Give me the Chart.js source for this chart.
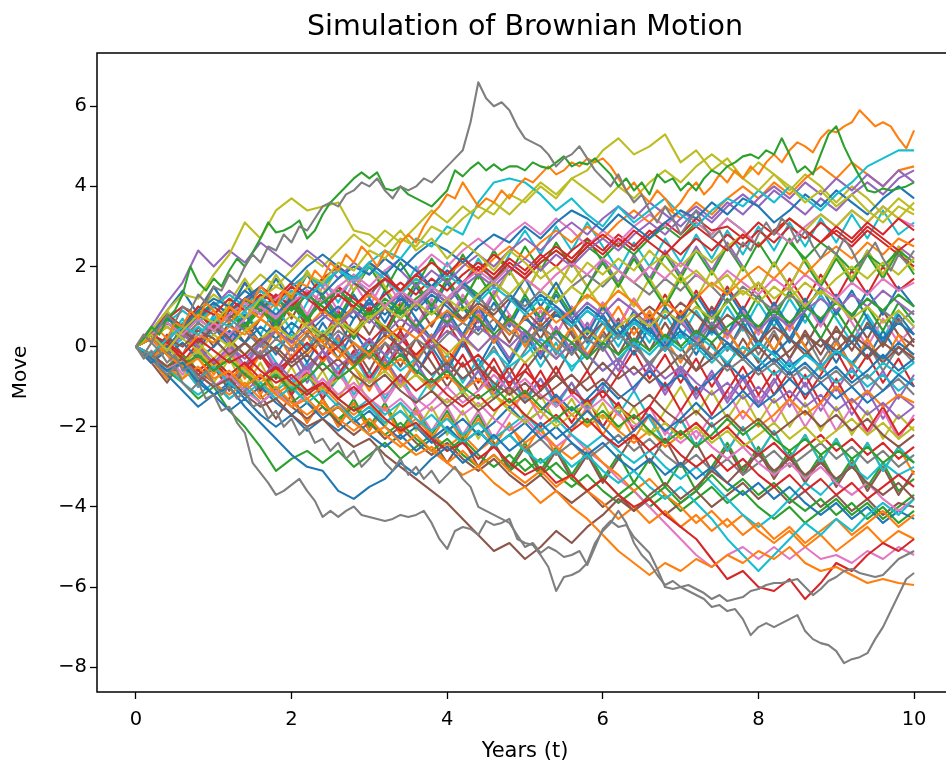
<!DOCTYPE html>
<html>
<head>
<meta charset="utf-8">
<script src="https://cdn.jsdelivr.net/npm/chart.js@4.4.1/dist/chart.umd.min.js"></script>
<style>
html,body{margin:0;padding:0;background:#fff;overflow:hidden;}
#wrap{width:946px;height:765px;overflow:hidden;position:relative;}
canvas{display:block;}
</style>
</head>
<body>
<div id="wrap"><canvas id="c" width="1050" height="765"></canvas></div>
<script>
// ---- time axis (categories) ----
const timesFine = [0,
0.1,0.2,0.3,0.4,0.5,0.6,0.7,0.8,0.9,1.0,
1.1,1.2,1.3,1.4,1.5,1.6,1.7,1.8,1.9,2.0,
2.1,2.2,2.3,2.4,2.5,2.6,2.7,2.8,2.9,3.0,
3.1,3.2,3.3,3.4,3.5,3.6,3.7,3.8,3.9,4.0,
4.1,4.2,4.3,4.4,4.5,4.6,4.7,4.8,4.9,5.0,
5.1,5.2,5.3,5.4,5.5,5.6,5.7,5.8,5.9,6.0,
6.1,6.2,6.3,6.4,6.5,6.6,6.7,6.8,6.9,7.0,
7.1,7.2,7.3,7.4,7.5,7.6,7.7,7.8,7.9,8.0,
8.1,8.2,8.3,8.4,8.5,8.6,8.7,8.8,8.9,9.0,
9.1,9.2,9.3,9.4,9.5,9.6,9.7,9.8,9.9,10.0];
const timesCoarse = [0,
0.2,0.4,0.6,0.8,1.0, 1.2,1.4,1.6,1.8,2.0, 2.2,2.4,2.6,2.8,3.0, 3.2,3.4,3.6,3.8,4.0, 4.2,4.4,4.6,4.8,5.0,
5.2,5.4,5.6,5.8,6.0, 6.2,6.4,6.6,6.8,7.0, 7.2,7.4,7.6,7.8,8.0, 8.2,8.4,8.6,8.8,9.0, 9.2,9.4,9.6,9.8,10.0];

// ---- tick labels ----
const xTicks = [0,2,4,6,8,10];
const yTicks = [-8,-6,-4,-2,0,2,4,6];

// ---- colours (matplotlib tab10) ----
const C = {blue:'#1f77b4',orange:'#ff7f0e',green:'#2ca02c',red:'#d62728',purple:'#9467bd',
           brown:'#8c564b',pink:'#e377c2',gray:'#7f7f7f',olive:'#bcbd22',cyan:'#17becf'};

// ---- paths read at 0.1-year resolution (the outliers) ----
const grayPeak = [0,
0.3,0.1,0.5,0.8,0.6,1.0,0.9,1.3,1.1,1.5,
1.4,1.8,1.6,2.0,2.3,2.1,2.5,2.4,2.8,2.6,
3.0,2.9,3.2,3.5,3.6,3.5,3.8,3.9,4.1,4.0,
4.2,3.9,3.7,4.0,3.9,4.0,4.2,4.1,4.3,4.5,
4.7,4.9,5.6,6.6,6.2,6.0,6.1,5.9,5.5,5.2,
5.1,5.0,4.8,4.5,4.7,4.8,5.0,4.7,4.4,4.2,
4.0,4.3,3.9,3.6,3.8,3.4,3.1,3.5,3.2,2.8,
3.1,3.4,3.0,2.7,2.9,2.5,2.2,2.6,2.4,2.8,
3.1,2.8,3.2,3.0,2.6,2.9,2.5,2.2,2.5,2.3,
2.7,2.4,2.0,2.3,2.6,2.2,1.9,2.3,2.1,2.4];
const grayDeep = [0,
-0.2,0.1,-0.1,-0.4,-0.2,-0.6,-0.5,-0.8,-0.6,-0.9,
-1.2,-1.0,-1.3,-1.1,-1.5,-1.4,-1.8,-1.6,-2.0,-1.8,
-2.2,-2.0,-2.4,-2.3,-2.6,-2.4,-2.8,-2.6,-3.0,-2.8,
-2.5,-2.9,-3.1,-2.8,-3.2,-3.0,-3.3,-3.1,-3.4,-3.2,
-3.0,-3.3,-3.5,-4.0,-4.1,-4.2,-4.3,-4.4,-4.7,-5.0,
-4.9,-5.15,-5.0,-5.1,-5.25,-5.2,-5.1,-5.45,-5.0,-4.55,
-4.35,-4.5,-4.45,-4.75,-4.95,-5.15,-5.55,-6.0,-6.05,-6.0,
-6.1,-6.2,-6.3,-6.5,-6.45,-6.6,-6.55,-6.8,-7.2,-7.0,
-6.9,-7.0,-6.9,-6.8,-6.7,-7.1,-7.3,-7.4,-7.45,-7.6,
-7.9,-7.8,-7.75,-7.65,-7.3,-7.0,-6.6,-6.2,-5.8,-5.65];
const grayLow = [0,
-0.3,-0.1,-0.5,-0.7,-0.5,-0.9,-1.1,-0.9,-1.3,-1.2,
-1.6,-1.5,-1.9,-2.15,-2.9,-3.15,-3.4,-3.7,-3.6,-3.45,
-3.3,-3.6,-3.85,-4.25,-4.1,-4.25,-4.1,-3.99,-4.2,-4.25,
-4.3,-4.35,-4.3,-4.2,-4.25,-4.2,-4.1,-4.4,-4.8,-5.05,
-4.6,-4.5,-4.55,-4.7,-4.35,-4.45,-4.4,-4.3,-4.8,-4.9,
-4.95,-5.2,-5.5,-6.1,-5.75,-5.7,-5.6,-5.4,-4.9,-4.6,
-4.4,-4.1,-4.4,-4.9,-5.2,-5.4,-5.7,-5.95,-5.85,-6.0,
-5.95,-6.05,-6.15,-6.3,-6.2,-6.35,-6.3,-6.25,-6.1,-6.05,
-5.95,-5.9,-5.9,-5.85,-5.8,-6.0,-6.2,-6.05,-5.85,-5.75,
-5.6,-5.55,-5.65,-5.7,-5.75,-5.7,-5.5,-5.3,-5.2,-5.1];
const greenTop = [0,
0.2,0.5,0.3,0.7,0.9,1.3,2.0,1.6,1.4,1.7,
1.5,1.9,2.2,2.0,2.35,2.7,3.1,2.85,2.9,3.0,
3.15,2.7,2.9,3.3,3.6,3.8,4.0,4.2,4.35,4.2,
4.35,3.95,3.9,4.0,3.8,3.7,3.6,3.5,3.7,3.9,
4.4,4.25,4.45,4.6,4.4,4.55,4.4,4.5,4.5,4.4,
4.6,4.5,4.45,4.6,4.75,4.5,4.6,4.55,4.7,4.5,
4.3,4.0,4.2,3.9,4.1,3.8,4.3,4.1,4.2,3.9,
4.1,3.9,4.2,4.4,4.3,4.5,4.6,4.75,4.8,4.7,
4.9,4.8,5.2,4.8,4.35,4.5,4.3,4.8,5.3,5.5,
5.0,4.6,4.25,3.9,3.85,3.95,3.9,3.95,4.0,4.1];
const orangeTop = [0,
0.3,0.1,0.4,0.2,0.6,0.5,0.9,0.7,1.1,0.9,
0.6,1.0,0.8,1.2,1.1,1.5,1.3,1.0,1.4,1.2,
1.6,1.5,1.9,1.7,2.1,1.9,2.3,2.1,2.5,2.3,
2.0,2.4,2.2,2.6,2.8,2.6,3.0,3.3,3.5,3.8,
3.7,4.1,3.8,3.5,3.7,3.6,3.9,3.7,4.0,4.2,
4.1,4.3,4.5,4.3,4.4,4.6,4.5,4.7,4.6,4.7,
4.5,4.2,3.9,4.1,3.8,3.6,3.9,3.7,3.4,3.6,
3.9,4.1,3.8,4.0,4.3,4.1,4.4,4.2,4.5,4.3,
4.6,4.8,4.6,4.9,5.1,5.0,4.85,5.2,5.4,5.35,
5.5,5.6,5.9,5.7,5.5,5.6,5.5,5.2,4.95,5.4];
const finePaths = [grayPeak, grayDeep, grayLow, greenTop, orangeTop];
const fineColors = [C.gray, C.gray, C.gray, C.green, C.orange];

// ---- paths read at 0.2-year resolution (the main band) ----
const p01=[0, 0.4,0.9,1.3,1.2,1.8, 2.3,3.1,2.7,3.4,3.7, 3.4,3.5,3.6,2.9,2.8, 2.5,2.9,2.4,2.7,2.2, 2.6,2.3,1.9,2.4,2.1, 1.7,2.0,1.6,2.1,1.8, 2.2,1.9,2.4,2.0,1.6, 1.9,1.5,1.8,1.3,1.6, 1.2,1.5,1.0,1.4,1.1, 0.7,1.0,0.6,0.9,0.5];
const p02=[0, 0.3,-0.1,0.4,0.8,0.6, 1.0,0.7,1.2,1.5,1.3, 1.8,1.6,2.1,1.9,2.4, 2.2,2.7,2.5,3.0,2.8, 3.2,3.5,3.3,3.8,3.6, 4.0,3.7,4.2,4.4,4.9, 5.2,4.8,5.0,5.3,4.6, 4.9,4.4,4.7,4.2,3.9, 4.3,4.0,3.6,3.9,3.5, 3.8,3.4,3.1,3.5,3.3];
const p03=[0, -0.2,0.2,0.5,0.3,0.7, 0.5,0.9,1.2,1.0,1.4, 1.2,1.6,1.9,1.7,2.1, 2.4,2.2,2.7,2.5,3.0, 2.8,3.6,4.1,4.2,4.1, 3.8,3.4,3.7,3.3,3.0, 3.5,3.1,3.4,3.7,3.3, 3.0,3.4,3.7,3.5,3.9, 3.6,4.0,3.7,3.4,3.8, 4.1,4.5,4.7,4.9,4.9];
const p04=[0, -0.3,-0.6,-0.4,-0.9,-1.2, -1.0,-1.5,-1.9,-2.3,-2.7, -3.0,-3.1,-3.6,-3.8,-3.5, -3.3,-2.9,-3.2,-2.8,-2.5, -2.9,-2.6,-2.2,-2.6,-2.3, -1.9,-2.3,-2.0,-1.6,-2.0, -2.4,-2.1,-1.7,-2.1,-1.8, -1.4,-1.8,-1.5,-1.1,-1.5, -1.2,-0.8,-1.2,-0.9,-1.3, -1.0,-1.4,-1.1,-0.7,-1.0];
const p05=[0, 0.2,-0.2,-0.5,-0.3,-0.8, -0.6,-1.0,-0.7,-1.2,-1.5, -1.3,-1.7,-1.5,-1.9,-2.2, -2.0,-2.4,-2.7,-2.5,-2.9, -3.2,-3.0,-3.4,-3.7,-3.5, -3.9,-3.6,-4.0,-4.3,-4.7, -5.1,-5.4,-5.7,-5.4,-5.6, -5.3,-5.5,-5.2,-5.4,-5.1, -5.3,-5.0,-5.4,-5.6,-5.5, -5.7,-5.9,-5.8,-5.9,-5.95];
const p06=[0, 0.3,0.1,-0.2,0.2,-0.1, -0.4,-0.2,-0.6,-0.9,-0.7, -1.1,-0.9,-1.3,-1.6,-1.4, -1.8,-2.1,-1.9,-2.3,-2.6, -2.4,-2.8,-2.5,-2.9,-3.2, -3.0,-3.4,-3.2,-3.6,-3.3, -3.7,-4.0,-3.8,-4.2,-4.5, -4.8,-5.3,-5.8,-5.6,-6.0, -6.1,-5.8,-6.3,-5.9,-5.4, -5.6,-5.2,-4.9,-5.1,-4.8];
const p07=[0, -0.2,-0.5,-0.3,-0.7,-1.0, -0.8,-1.2,-1.5,-1.3,-1.7, -2.0,-1.8,-2.2,-2.5,-2.3, -2.7,-3.0,-3.3,-3.6,-3.9, -4.3,-4.7,-5.1,-4.9,-5.3, -5.0,-4.6,-4.9,-4.5,-4.2, -3.8,-4.1,-3.7,-3.4,-3.8, -3.5,-3.1,-3.4,-3.0,-2.7, -3.1,-2.8,-3.2,-2.9,-3.3, -3.0,-3.4,-3.7,-3.4,-3.8];
const p08=[0, 0.4,0.7,0.5,0.9,1.2, 1.0,1.4,1.1,0.8,1.2, 1.5,1.3,1.7,2.0,1.8, 2.2,1.9,2.3,2.6,2.4, 2.1,2.5,2.8,2.6,3.0, 2.7,3.1,3.4,3.2,2.9, 3.3,3.0,2.7,3.1,3.4, 3.2,3.6,3.3,3.7,3.5, 3.1,3.4,3.8,3.5,3.9, 3.6,3.3,3.7,4.0,3.7];
const p09=[0, -0.3,0.1,-0.2,0.3,0.1, 0.5,0.3,0.7,0.4,0.0, 0.4,0.1,-0.3,0.1,-0.2, 0.2,0.5,0.2,0.6,0.9, 0.6,1.0,0.7,0.3,0.7, 1.0,0.6,0.9,1.3,1.0, 1.4,1.1,0.7,1.1,0.8, 1.2,1.6,1.3,1.7,2.0, 1.7,2.1,1.8,2.2,2.5, 2.2,2.6,2.3,2.7,2.5];
const p10=[0, 0.2,-0.2,-0.5,-0.2,-0.6, -0.3,-0.7,-1.0,-0.7,-1.1, -0.8,-0.4,-0.8,-0.5,-0.1, -0.5,-0.2,-0.6,-0.9,-0.6, -1.0,-1.3,-1.0,-1.4,-1.1, -1.5,-1.8,-1.5,-1.9,-1.6, -2.0,-1.7,-2.1,-2.4,-2.1, -2.5,-2.2,-1.8,-2.2,-1.9, -2.3,-2.6,-2.3,-2.7,-2.4, -2.8,-2.5,-2.9,-2.6,-2.9];
const p11=[0, 0.4,0.8,0.5,1.0,0.8, 1.2,0.9,1.3,1.1,1.5, 1.2,0.9,1.3,1.0,1.4, 1.7,1.4,1.8,2.1,1.8, 2.2,1.9,2.3,2.0,1.7, 2.1,2.4,2.1,2.5,2.8, 2.5,2.9,2.6,2.3,2.7, 3.0,2.7,2.4,2.8,2.5, 2.9,3.2,2.9,2.6,3.0, 2.7,3.1,2.8,3.2,2.9];
const p12=[0, 0.5,1.1,1.6,2.4,2.0, 2.4,2.1,2.6,2.3,2.0, 2.4,2.1,1.7,2.1,1.8, 2.2,1.9,1.5,1.9,1.6, 2.0,2.3,2.0,2.4,2.7, 2.4,2.8,3.1,2.8,3.2, 3.5,3.2,3.6,3.3,3.0, 3.4,3.1,3.5,3.8,3.5, 3.9,3.6,3.3,3.7,3.4, 3.8,4.1,3.8,4.2,4.4];
const p13=[0, -0.2,0.2,0.0,0.4,0.2, -0.2,0.1,-0.3,0.0,-0.4, -0.1,0.3,0.0,-0.4,-0.1, 0.3,0.0,-0.3,-0.7,-0.4, -0.8,-0.5,-0.9,-1.2,-0.9, -1.3,-1.0,-0.7,-1.1,-0.8, -1.2,-1.5,-1.2,-1.6,-1.9, -1.6,-2.0,-1.7,-2.1,-1.8, -2.2,-1.9,-1.6,-2.0,-1.7, -2.1,-1.8,-2.2,-2.5,-2.2];
const p14=[0, 0.3,0.6,0.3,0.7,0.4, 0.8,1.1,0.8,1.2,1.5, 1.2,1.6,1.3,1.7,1.4, 1.0,1.4,1.1,1.5,1.2, 1.6,1.9,1.6,2.0,1.7, 1.4,1.8,2.1,1.8,2.2, 1.9,1.6,2.0,1.7,2.1, 1.8,1.5,1.9,1.6,1.3, 1.7,1.4,1.8,1.5,1.2, 1.6,1.3,1.7,1.4,1.6];
const p15=[0, -0.3,-0.1,-0.5,-0.2,-0.6, -0.3,0.1,-0.2,0.2,-0.1, 0.3,0.0,0.4,0.1,-0.3, 0.1,-0.2,0.2,-0.1,0.3, 0.6,0.3,0.7,0.4,0.1, 0.5,0.2,-0.2,0.2,-0.1, 0.3,0.0,-0.4,0.0,-0.3, 0.1,-0.2,-0.6,-0.3,-0.7, -0.4,-0.8,-0.5,-0.9,-0.6, -1.0,-0.7,-1.1,-0.8,-1.2];
const p16=[0, 0.2,0.5,0.2,-0.1,0.3, 0.0,0.4,0.7,0.4,0.8, 0.5,0.2,0.6,0.3,0.7, 1.0,0.7,1.1,0.8,1.2, 0.9,1.3,1.6,1.3,1.7, 1.4,1.1,1.5,1.2,1.6, 1.9,1.6,2.0,2.3,2.0, 2.4,2.1,2.5,2.8,2.5, 2.9,3.2,2.9,3.3,3.0, 3.4,3.1,3.5,3.2,3.6];
const p17=[0, -0.3,-0.6,-0.4,-0.8,-0.5, -0.9,-1.2,-0.9,-1.3,-1.0, -1.4,-1.1,-1.5,-1.8,-1.5, -1.9,-1.6,-2.0,-1.7,-2.1, -2.4,-2.1,-2.5,-2.2,-2.6, -2.9,-2.6,-3.0,-2.7,-3.1, -3.4,-3.1,-3.5,-3.8,-3.5, -3.9,-4.3,-4.8,-5.2,-5.6, -5.2,-4.8,-4.4,-4.7,-4.3, -4.6,-4.2,-3.9,-4.2,-3.8];
const p18=[0, 0.3,0.0,0.4,0.7,1.1, 0.8,1.2,1.5,1.9,1.6, 2.0,2.3,2.0,1.7,2.1, 1.8,2.2,1.9,1.5,1.9, 1.6,1.2,1.6,1.3,0.9, 1.3,1.0,0.6,1.0,0.7, 0.3,0.7,0.4,0.0,0.4, 0.1,-0.3,0.1,-0.2,-0.6, -0.3,-0.7,-0.4,-0.8,-0.5, -0.9,-0.6,-0.2,-0.6,-0.3];
const p19=[0, -0.2,-0.5,-0.8,-0.5,-0.9, -1.2,-0.9,-1.3,-1.0,-1.4, -1.7,-1.4,-1.8,-2.1,-1.8, -2.2,-2.5,-2.2,-2.6,-2.9, -2.6,-3.0,-2.7,-3.1,-3.4, -3.1,-3.5,-3.2,-3.6,-3.9, -4.3,-4.0,-4.4,-4.1,-4.5, -4.2,-4.6,-4.3,-4.7,-4.4, -4.8,-4.5,-4.9,-4.6,-4.3, -4.7,-4.4,-4.1,-4.5,-4.2];
const p20=[0, 0.3,0.7,0.4,0.8,1.1, 0.8,1.2,0.9,0.6,1.0, 0.7,1.1,1.4,1.1,0.8, 1.2,0.9,0.5,0.9,0.6, 1.0,0.7,0.3,0.7,0.4, 0.0,0.4,0.1,-0.3,0.1, -0.2,0.2,-0.1,0.3,0.0, 0.4,0.1,0.5,0.8,0.5, 0.9,0.6,1.0,0.7,1.1, 0.8,1.2,0.9,1.3,1.0];
const p21=[0, -0.2,0.1,-0.3,-0.6,-0.3, -0.7,-0.4,-0.8,-0.5,-0.9, -1.2,-0.9,-1.3,-1.0,-1.4, -1.1,-0.7,-1.1,-0.8,-1.2, -1.5,-1.2,-1.6,-1.3,-1.7, -2.0,-1.7,-2.1,-1.8,-2.2, -2.5,-2.2,-2.6,-2.3,-2.7, -3.0,-2.7,-3.1,-2.8,-3.2, -3.5,-3.2,-3.6,-3.3,-3.7, -3.4,-3.8,-3.5,-3.2,-3.5];
const p22=[0, 0.2,-0.1,0.3,0.0,-0.4, 0.0,-0.3,0.1,0.4,0.1, 0.5,0.8,0.5,0.9,0.6, 1.0,1.3,1.0,1.4,1.1, 1.5,1.8,1.5,1.9,2.2, 1.9,2.3,2.0,2.4,2.7, 2.4,2.8,3.1,2.8,3.2, 3.5,3.2,3.6,3.3,3.7, 4.0,3.7,4.1,3.8,4.2, 3.9,4.3,4.0,4.4,4.1];
const p23=[0, 0.3,0.0,0.4,0.1,0.5, 0.2,-0.2,0.2,-0.1,-0.5, -0.2,-0.6,-0.3,-0.7,-1.0, -0.7,-1.1,-1.4,-1.1,-1.5, -1.2,-1.6,-1.3,-1.0,-1.4, -1.1,-0.7,-1.1,-0.8,-0.4, -0.8,-0.5,-0.9,-0.6,-0.2, -0.6,-0.3,0.1,-0.3,0.0, -0.4,-0.1,0.3,0.0,0.4, 0.1,-0.3,0.1,-0.2,0.2];
const p24=[0, -0.3,-0.6,-0.3,-0.7,-1.0, -0.7,-1.1,-1.4,-1.1,-1.5, -1.2,-0.8,-1.2,-0.9,-1.3, -1.6,-1.3,-1.7,-1.4,-1.0, -1.4,-1.1,-0.7,-1.1,-0.8, -1.2,-1.5,-1.2,-1.6,-1.3, -1.7,-2.0,-1.7,-2.1,-2.4, -2.1,-2.5,-2.8,-2.5,-2.9, -3.2,-2.9,-3.3,-3.0,-3.4, -3.7,-3.4,-3.8,-4.1,-3.8];
const p25=[0, 0.2,0.5,0.2,0.6,0.3, 0.7,0.4,0.0,0.4,0.1, 0.5,0.2,0.6,0.9,0.6, 1.0,0.7,1.1,1.4,1.1, 1.5,1.2,0.9,1.3,1.0, 1.4,1.1,1.5,1.8,1.5, 1.9,1.6,1.3,1.7,1.4, 1.8,1.5,1.1,1.5,1.2, 0.9,1.3,1.0,1.4,1.1, 0.8,1.2,0.9,0.6,0.9];
const p26=[0, -0.3,0.0,-0.4,-0.1,-0.5, -0.2,-0.6,-0.9,-0.6,-1.0, -0.7,-1.1,-0.8,-0.5,-0.9, -0.6,-1.0,-0.7,-1.1,-1.4, -1.1,-1.5,-1.2,-1.6,-1.9, -1.6,-2.0,-1.7,-1.4,-1.8, -1.5,-1.9,-2.2,-1.9,-2.3, -2.0,-2.4,-2.1,-2.5,-2.2, -1.9,-2.3,-2.0,-2.4,-2.1, -1.8,-2.2,-1.9,-2.3,-2.0];
const p27=[0, 0.3,0.6,0.9,0.6,1.0, 1.3,1.0,1.4,1.1,1.5, 1.8,1.5,1.9,1.6,2.0, 1.7,1.3,1.7,1.4,1.8, 1.5,1.1,1.5,1.2,0.8, 1.2,0.9,0.5,0.9,0.6, 0.2,0.6,0.3,-0.1,0.3, 0.0,-0.4,0.0,-0.3,0.1, -0.2,-0.6,-0.2,-0.5,-0.1, -0.4,-0.8,-0.4,-0.7,-0.4];
const p28=[0, -0.4,-0.1,-0.5,-0.8,-1.2, -0.9,-1.3,-1.0,-1.4,-1.7, -1.4,-1.8,-2.1,-1.8,-2.2, -2.5,-2.2,-2.6,-2.3,-2.0, -2.4,-2.1,-2.5,-2.2,-1.9, -2.3,-2.0,-2.4,-2.7,-2.4, -2.8,-3.1,-2.8,-3.2,-2.9, -3.3,-3.0,-3.4,-3.7,-3.4, -3.8,-3.5,-3.9,-4.2,-3.9, -4.3,-4.0,-4.4,-4.1,-4.3];
const p29=[0, 0.2,0.5,0.2,0.6,0.9, 0.6,1.0,0.7,1.1,0.8, 0.5,0.9,0.6,1.0,1.3, 1.0,1.4,1.7,1.4,1.8, 2.1,1.8,2.2,2.5,2.2, 2.6,2.9,2.6,3.0,2.7, 3.1,3.4,3.1,3.5,3.2, 3.6,3.3,3.7,4.0,3.7, 4.1,3.8,4.2,4.5,4.2, 4.6,4.3,4.0,4.4,4.5];
const p30=[0, -0.2,-0.5,-0.2,-0.6,-0.3, -0.7,-1.0,-0.7,-1.1,-1.4, -1.1,-1.5,-1.8,-1.5,-1.9, -2.2,-1.9,-2.3,-2.6,-2.3, -2.7,-3.0,-2.7,-3.1,-2.8, -3.2,-2.9,-3.3,-3.6,-3.3, -3.7,-3.4,-3.8,-3.5,-3.9, -3.6,-3.2,-3.6,-3.3,-3.7, -3.4,-3.8,-4.1,-3.8,-4.2, -3.9,-4.3,-4.0,-4.4,-4.1];
const p31=[0, 0.3,0.7,1.0,0.7,1.1, 0.8,1.2,1.5,1.2,1.6, 1.3,1.7,2.0,1.7,2.1, 1.8,1.4,1.8,1.5,1.9, 1.6,2.0,1.7,2.1,1.8, 2.2,2.5,2.2,2.6,2.3, 2.7,2.4,2.8,3.1,2.8, 3.2,2.9,3.0,2.7,3.1, 2.8,3.2,2.9,2.6,2.9, 2.6,3.0,2.7,2.4,2.7];
const p32=[0, -0.2,-0.6,-0.3,-0.7,-1.0, -0.7,-1.1,-0.8,-0.4,-0.8, -0.5,-0.1,-0.5,-0.2,0.2, -0.2,0.1,0.5,0.2,0.6, 0.3,-0.1,0.3,0.0,0.4, 0.1,-0.3,0.1,-0.2,-0.6, -0.3,-0.7,-0.4,-0.8,-0.5, -0.9,-1.2,-0.9,-1.3,-1.0, -1.4,-1.1,-1.5,-1.2,-1.6, -1.3,-1.7,-1.4,-1.8,-1.5];
const p33=[0, 0.2,0.6,0.3,0.7,1.0, 0.7,1.1,1.4,1.1,1.5, 1.8,1.5,1.9,1.6,1.3, 1.7,1.4,1.0,1.4,1.1, 0.7,1.1,0.8,1.2,0.9, 0.5,0.9,0.6,0.2,0.6, 0.3,0.7,1.0,0.7,1.1, 0.8,0.4,0.8,0.5,0.1, 0.5,0.2,-0.2,0.2,-0.1, 0.3,0.0,-0.4,0.0,-0.3];
const p34=[0, -0.2,0.2,0.5,0.2,0.6, 0.3,0.7,1.0,0.7,1.1, 1.4,1.1,1.5,1.8,1.5, 1.9,2.2,1.9,2.3,2.0, 2.4,2.7,2.4,2.8,3.1, 2.8,3.2,2.9,2.5,2.9, 2.6,3.0,3.3,3.0,3.4, 3.1,2.8,3.2,2.9,2.5, 2.9,2.6,3.0,3.3,3.0, 3.4,3.1,3.5,3.2,3.0];
const p35=[0, -0.3,-0.7,-0.4,-0.8,-0.5, -0.9,-0.6,-1.0,-1.3,-1.0, -1.4,-1.7,-1.4,-1.8,-1.5, -1.9,-1.6,-2.0,-2.3,-2.0, -2.4,-2.1,-2.5,-2.2,-2.6, -2.3,-2.7,-2.4,-2.8,-2.5, -2.2,-2.6,-2.3,-2.7,-3.0, -2.7,-3.1,-2.8,-3.2,-2.9, -2.6,-3.0,-2.7,-2.4,-2.8, -2.5,-2.9,-2.6,-3.0,-2.7];
const p36=[0, 0.3,0.0,0.4,0.1,-0.3, 0.1,-0.2,0.2,0.5,0.2, 0.6,0.3,0.7,0.4,0.8, 0.5,0.1,0.5,0.2,-0.2, 0.2,-0.1,0.3,0.0,-0.4, 0.0,-0.3,0.1,0.4,0.1, 0.5,0.8,0.5,0.9,0.6, 1.0,0.7,1.1,1.4,1.1, 1.5,1.2,1.6,1.3,1.7, 2.0,1.7,2.1,1.8,2.2];
const p37=[0, -0.2,-0.5,-0.9,-1.2,-0.9, -1.3,-1.0,-1.4,-1.1,-0.8, -1.2,-0.9,-1.3,-1.6,-1.3, -1.7,-1.4,-1.8,-2.1,-1.8, -2.2,-1.9,-2.3,-2.0,-1.7, -2.1,-1.8,-2.2,-2.5,-2.2, -2.6,-2.9,-2.6,-3.0,-3.3, -3.0,-3.4,-3.8,-4.2,-4.5, -4.2,-3.8,-3.4,-3.7,-3.3, -3.0,-3.3,-2.9,-3.2,-3.0];
const p38=[0, 0.2,-0.2,0.1,-0.3,0.0, 0.4,0.1,0.5,0.2,0.6, 0.3,0.7,1.0,0.7,1.1, 0.8,1.2,0.9,1.3,1.0, 0.6,1.0,0.7,0.3,0.7, 0.4,0.8,0.5,0.9,0.6, 0.2,0.6,0.3,-0.1,0.3, 0.0,0.4,0.1,-0.3,0.1, -0.2,0.2,-0.1,-0.5,-0.1, -0.4,0.0,-0.3,0.1,-0.2];
const p39=[0, -0.3,0.0,-0.4,-0.1,-0.5, -0.8,-0.5,-0.9,-1.2,-0.9, -1.3,-1.0,-1.4,-1.7,-1.4, -1.8,-2.1,-1.8,-2.2,-2.5, -2.2,-2.6,-2.3,-2.0,-2.4, -2.1,-2.5,-2.8,-2.5,-2.9, -3.2,-3.6,-3.3,-3.7,-4.0, -4.4,-4.1,-4.5,-4.2,-4.6, -4.9,-4.6,-5.0,-4.7,-5.1, -4.8,-4.5,-4.9,-4.6,-4.8];
const p40=[0, 0.3,0.0,0.4,0.7,0.4, 0.8,0.5,0.9,1.2,0.9, 1.3,1.0,0.6,1.0,0.7, 1.1,0.8,1.2,1.5,1.2, 1.6,1.3,1.7,2.0,1.7, 2.1,2.4,2.1,2.5,2.2, 2.6,2.3,2.7,3.0,2.7, 3.1,2.8,3.2,2.9,2.5, 2.9,2.6,2.2,2.6,2.3, 1.9,2.3,2.0,2.4,2.1];
const p41=[0, -0.3,-0.6,-0.3,-0.7,-0.4, -0.8,-0.5,-0.2,-0.6,-0.3, 0.1,-0.3,0.0,0.4,0.1, 0.5,0.2,-0.2,0.2,-0.1, -0.5,-0.2,-0.6,-0.9,-0.6, -1.0,-0.7,-1.1,-1.4,-1.1, -1.5,-1.8,-1.5,-1.9,-2.2, -1.9,-2.3,-2.0,-2.4,-2.7, -2.4,-2.8,-2.5,-2.2,-2.6, -2.3,-2.7,-2.4,-2.8,-2.5];
const p42=[0, 0.3,0.6,0.3,0.7,1.0, 1.4,1.1,1.5,1.2,0.9, 1.3,1.0,0.6,1.0,0.7, 0.3,0.7,0.4,0.0,0.4, 0.1,0.5,0.2,0.6,0.3, 0.7,1.0,0.7,1.1,0.8, 1.2,0.9,0.5,0.9,0.6, 0.2,0.6,0.3,0.7,0.4, 0.8,0.5,0.9,1.2,0.9, 1.3,1.0,1.4,1.1,0.8];
const p43=[0, -0.2,-0.5,-0.2,-0.6,-0.9, -1.3,-1.0,-1.4,-1.1,-1.5, -1.8,-1.5,-1.9,-2.2,-1.9, -2.3,-2.0,-2.4,-2.7,-2.4, -2.8,-3.1,-2.8,-3.2,-3.5, -3.2,-3.6,-3.9,-3.6,-4.0, -3.7,-4.1,-3.8,-4.2,-3.9, -3.6,-4.0,-3.7,-3.4,-3.8, -3.5,-3.9,-3.6,-4.0,-3.7, -4.1,-3.8,-4.2,-3.9,-4.0];
const p44=[0, 0.2,-0.1,0.3,0.0,-0.4, -0.1,-0.5,-0.2,-0.6,-0.9, -0.6,-1.0,-0.7,-1.1,-0.8, -1.2,-0.9,-1.3,-1.6,-1.3, -1.7,-1.4,-1.8,-2.1,-1.8, -2.2,-2.5,-2.2,-2.6,-2.9, -3.3,-3.6,-4.0,-4.4,-4.8, -5.2,-5.5,-5.2,-5.0,-5.3, -5.0,-5.3,-5.0,-5.3,-5.2, -5.4,-5.1,-5.3,-5.0,-5.2];
const p45=[0, 0.4,0.8,0.5,0.9,1.3, 1.0,1.4,1.8,1.5,1.9, 2.3,2.0,2.4,2.8,2.5, 2.9,2.6,3.0,3.4,3.1, 3.5,3.2,3.6,3.3,3.7, 4.1,3.8,4.2,3.9,3.6, 4.0,3.7,4.1,4.4,4.1, 4.5,4.8,4.5,4.2,4.6, 4.3,3.9,4.3,4.0,3.6, 4.0,3.7,3.3,3.7,3.4];
const p46=[0, 0.3,-0.1,0.2,0.5,0.2, -0.2,0.1,-0.3,0.0,0.3, 0.0,0.4,0.1,-0.3,0.1, -0.2,-0.6,-0.3,-0.7,-0.4, -0.8,-0.5,-0.1,-0.5,-0.2, 0.2,-0.1,-0.5,-0.2,-0.6, -0.3,0.1,-0.2,0.2,-0.1, 0.3,0.0,-0.4,0.0,-0.3, -0.7,-0.4,-0.8,-0.5,-0.9, -0.6,-1.0,-0.7,-1.1,-0.8];
const p47=[0, -0.3,-0.7,-1.1,-1.5,-1.2, -1.6,-1.3,-1.7,-2.0,-1.7, -2.1,-1.8,-1.5,-1.9,-1.6, -2.0,-2.3,-2.0,-2.4,-2.1, -1.8,-2.2,-1.9,-1.5,-1.9, -1.6,-1.2,-1.6,-1.3,-0.9, -1.3,-1.0,-0.6,-1.0,-0.7, -1.1,-0.8,-0.4,-0.8,-0.5, -0.1,-0.5,-0.2,0.2,-0.2, 0.1,0.5,0.2,0.6,0.3];
const p48=[0, 0.3,0.6,0.3,0.7,0.4, 0.8,0.5,0.1,0.5,0.2, -0.2,0.2,-0.1,-0.5,-0.2, -0.6,-0.3,-0.7,-1.0,-0.7, -1.1,-0.8,-1.2,-1.5,-1.2, -1.6,-1.3,-1.7,-2.0,-1.7, -2.1,-2.4,-2.1,-2.5,-2.2, -1.9,-2.3,-2.0,-1.6,-2.0, -1.7,-1.3,-1.7,-1.4,-1.0, -1.4,-1.1,-1.5,-1.2,-1.4];
const p49=[0, -0.2,-0.6,-0.9,-1.3,-1.0, -1.6,-2.0,-2.5,-3.1,-2.8, -2.6,-2.9,-2.6,-3.0,-2.7, -2.4,-2.8,-2.5,-2.2,-2.6, -2.3,-2.7,-3.0,-2.7,-3.1, -2.8,-3.2,-3.5,-3.2,-3.6, -3.9,-3.6,-4.0,-3.7,-4.1, -3.8,-3.5,-3.9,-3.6,-4.0, -4.3,-4.0,-4.4,-4.1,-3.8, -4.2,-3.9,-4.3,-4.0,-3.7];
const p50=[0, -0.2,0.2,0.5,0.8,0.5, 0.9,1.2,0.9,1.3,1.0, 1.4,1.1,1.5,1.2,0.9, 1.3,1.6,1.3,1.7,1.4, 1.8,2.1,1.8,2.2,1.9, 2.3,2.0,2.4,2.7,2.4, 2.8,2.5,2.9,2.6,2.3, 2.7,2.4,2.8,2.5,2.9, 2.6,3.0,2.7,3.1,2.8, 2.5,2.9,2.6,2.3,2.0];
// more jagged paths filling the middle of the band
const q01=[0, 0.4,-0.1,0.5,0.1,0.7, 0.2,0.8,0.3,-0.2,0.4, -0.1,0.6,0.0,0.7,1.2, 0.6,1.3,0.7,0.2,0.9, 0.3,1.0,0.4,1.1,1.7, 1.0,1.6,0.9,0.3,1.0, 0.4,-0.2,0.5,-0.1,0.6, 1.3,0.7,1.4,0.8,0.1, 0.8,0.2,0.9,1.5,0.8, 1.4,0.7,0.1,0.8,0.3];
const q02=[0, -0.4,0.1,-0.5,0.0,-0.7, -0.1,-0.8,-0.2,0.4,-0.3, 0.3,-0.4,0.2,-0.5,-1.1, -0.4,-1.0,-0.3,0.3,-0.4, 0.2,0.8,0.1,0.7,0.0, 0.6,-0.1,0.5,-0.2,0.4, 1.0,0.3,0.9,0.2,-0.4, 0.3,-0.3,0.4,-0.2,0.5, -0.1,0.6,0.0,-0.6,0.1, -0.5,0.2,-0.4,0.3,-0.3];
const q03=[0, 0.3,0.8,0.2,0.9,0.4, 1.0,0.5,1.2,0.6,1.3, 0.7,0.1,0.8,0.2,0.9, 0.3,1.0,1.6,1.0,1.7, 1.1,1.8,1.2,0.6,1.3, 0.7,1.4,0.8,1.5,2.1, 1.5,2.2,1.6,1.0,1.7, 1.1,0.5,1.2,0.6,1.3, 0.7,1.4,0.8,0.2,0.9, 0.3,1.0,0.4,1.1,0.6];
const q04=[0, -0.3,0.2,-0.4,-0.9,-0.3, -0.9,-0.4,-1.1,-0.5,-1.2, -0.6,-1.3,-0.7,-0.1,-0.8, -0.2,0.4,-0.3,0.3,-0.4, 0.2,-0.5,-1.1,-0.5,-1.2, -0.6,-1.3,-1.9,-1.3,-2.0, -1.4,-2.1,-1.5,-0.9,-1.6, -1.0,-1.7,-1.1,-0.5,-1.2, -0.6,-1.3,-0.7,-1.4,-0.8, -1.5,-2.1,-1.5,-2.2,-1.8];
const q05=[0, 0.4,-0.1,0.5,0.0,0.6, 0.1,-0.5,0.1,-0.6,0.0, -0.6,-0.1,-0.7,-0.2,-0.8, -0.3,-0.9,-0.4,-1.0,-0.5, -1.1,-0.6,-1.2,-0.7,-1.3, -0.8,-1.4,-0.9,-1.5,-1.0, -0.4,-1.1,-0.5,-1.2,-0.6, -1.3,-0.7,-1.4,-0.8,-1.5, -0.9,-0.3,-1.0,-0.4,-1.1, -0.5,-1.2,-0.6,-1.3,-0.7];
const q06=[0, -0.3,0.3,-0.2,0.5,0.0, 0.6,0.1,0.7,1.3,0.7, 1.4,0.8,1.5,0.9,0.3, 1.0,0.4,1.1,0.5,1.2, 0.6,1.3,0.7,0.1,0.8, 0.2,0.9,0.3,-0.3,0.4, -0.2,0.5,-0.1,0.6,0.0, -0.6,0.1,-0.5,0.2,-0.4, 0.3,-0.3,0.4,-0.2,0.5, -0.1,0.6,0.0,0.7,0.1];
const q07=[0, 0.3,-0.2,-0.7,-0.1,-0.6, 0.0,-0.6,0.1,-0.5,-1.1, -0.5,-1.2,-0.6,-1.3,-0.7, -1.4,-0.8,-1.5,-2.1,-1.5, -2.2,-1.6,-2.3,-1.7,-1.1, -1.8,-1.2,-1.9,-1.3,-2.0, -1.4,-2.1,-1.5,-2.2,-1.6, -2.3,-1.7,-1.1,-1.8,-1.2, -1.9,-1.3,-2.0,-1.4,-2.1, -1.5,-2.2,-1.6,-2.3,-1.7];
const q08=[0, 0.4,0.9,0.4,1.0,0.5, 1.1,1.7,1.1,1.8,1.2, 1.9,1.3,2.0,1.4,2.1, 1.5,0.9,1.6,1.0,1.7, 1.1,1.8,1.2,1.9,1.3, 2.0,1.4,2.1,1.5,0.9, 1.6,1.0,1.7,1.1,1.8, 1.2,1.9,1.3,2.0,1.4, 2.1,1.5,2.2,1.6,2.3, 1.7,2.4,1.8,2.5,1.9];
const q09=[0, -0.4,0.1,-0.5,-1.0,-0.4, -1.0,-0.5,-1.1,-0.6,-1.2, -0.7,-1.3,-0.8,-0.2,-0.9, -0.3,-1.0,-0.4,-1.1,-0.5, -1.2,-0.6,-1.3,-0.7,-1.4, -0.8,-1.5,-0.9,-1.6,-1.0, -1.7,-1.1,-1.8,-2.4,-1.8, -2.5,-1.9,-2.6,-2.0,-2.7, -2.1,-2.8,-2.2,-2.9,-2.3, -3.0,-2.4,-3.1,-2.5,-2.9];
const q10=[0, 0.3,-0.2,0.4,-0.1,0.5, 0.0,0.6,0.1,0.7,0.2, -0.4,0.3,-0.3,0.4,-0.2, 0.5,-0.1,-0.7,0.0,-0.6, 0.1,-0.5,0.2,-0.4,0.3, -0.3,0.4,-0.2,0.5,-0.1, 0.6,0.0,0.7,0.1,0.8, 0.2,0.9,0.3,1.0,0.4, 1.1,0.5,1.2,0.6,1.3, 0.7,1.4,0.8,1.5,1.0];
const q11=[0, -0.3,-0.8,-0.2,-0.9,-0.4, -1.0,-0.5,-1.2,-0.6,-1.3, -1.9,-1.3,-2.0,-1.4,-2.1, -1.5,-2.2,-1.6,-2.3,-1.7, -2.4,-1.8,-2.5,-1.9,-2.6, -2.0,-2.7,-2.1,-1.5,-2.2, -1.6,-2.3,-1.7,-2.4,-1.8, -2.5,-1.9,-2.6,-2.0,-2.7, -2.1,-2.8,-2.2,-2.9,-2.3, -3.0,-2.4,-3.1,-2.5,-3.2];
const q12=[0, 0.4,-0.1,0.5,1.0,0.4, 1.0,0.4,1.1,0.5,1.2, 0.6,1.3,0.7,1.4,2.0, 1.4,2.1,1.5,2.2,1.6, 2.3,1.7,2.4,1.8,2.5, 1.9,2.6,2.0,2.7,2.1, 1.5,2.2,1.6,2.3,1.7, 2.4,1.8,2.5,1.9,2.6, 2.0,2.7,2.1,1.5,2.2, 1.6,2.3,1.7,2.4,1.8];
const q13=[0, -0.4,0.1,-0.5,0.0,-0.6, -0.1,-0.7,-0.2,-0.8,-0.3, 0.3,-0.4,0.2,-0.5,0.1, -0.6,0.0,-0.7,-0.1,-0.8, -0.2,-0.9,-0.3,-1.0,-0.4, -1.1,-0.5,-1.2,-0.6,-1.3, -0.7,-0.1,-0.8,-0.2,-0.9, -0.3,-1.0,-0.4,-1.1,-0.5, -1.2,-0.6,-1.3,-0.7,-0.1, -0.8,-0.2,-0.9,-0.3,-1.0];
const q14=[0, 0.3,0.8,0.3,0.9,0.4, 1.0,0.5,1.1,0.6,1.2, 0.7,1.3,0.8,0.2,0.9, 0.3,1.0,0.4,1.1,0.5, 1.2,0.6,1.3,1.9,1.3, 2.0,1.4,2.1,1.5,2.2, 1.6,2.3,1.7,2.4,1.8, 2.5,1.9,2.6,2.0,1.4, 2.1,1.5,2.2,1.6,2.3, 1.7,2.4,1.8,2.5,2.2];
const q15=[0, -0.4,-0.9,-0.3,-1.0,-0.5, -1.1,-0.6,-1.2,-1.8,-1.2, -1.9,-1.3,-2.0,-1.4,-2.1, -1.5,-2.2,-1.6,-2.3,-2.9, -2.3,-3.0,-2.4,-3.1,-2.5, -3.2,-2.6,-3.3,-2.7,-3.4, -2.8,-2.2,-2.9,-2.3,-3.0, -2.4,-3.1,-2.5,-3.2,-2.6, -3.3,-2.7,-3.4,-2.8,-3.5, -2.9,-3.6,-3.0,-3.7,-3.1];
const q16=[0, 0.4,-0.1,0.5,0.0,0.6, 0.1,0.7,1.3,0.7,1.4, 0.8,1.5,0.9,1.6,1.0, 1.7,1.1,0.5,1.2,0.6, 1.3,0.7,1.4,0.8,0.2, 0.9,0.3,1.0,0.4,1.1, 0.5,1.2,0.6,0.0,0.7, 0.1,0.8,0.2,0.9,0.3, 1.0,0.4,1.1,0.5,1.2, 0.6,0.0,0.7,0.1,0.5];
const q17=[0, -0.3,0.2,0.7,0.1,0.8, 0.2,0.9,0.3,1.0,0.4, 1.1,1.7,1.1,1.8,1.2, 1.9,1.3,2.0,1.4,2.1, 1.5,2.2,1.6,2.3,2.9, 2.3,3.0,2.4,3.1,2.5, 1.9,2.6,2.0,2.7,2.1, 2.8,2.2,2.9,2.3,3.0, 2.4,3.1,2.5,3.2,2.6, 3.3,2.7,3.4,2.8,3.1];
const q18=[0, -0.4,0.1,-0.5,-1.0,-0.4, -1.1,-0.5,0.1,-0.6,0.0, -0.7,-0.1,-0.8,-0.2,-0.9, -0.3,0.3,-0.4,0.2,-0.5, 0.1,-0.6,0.0,-0.7,-0.1, 0.5,-0.2,0.4,-0.3,0.3, -0.4,0.2,-0.5,0.1,-0.6, 0.0,0.6,-0.1,0.5,-0.2, 0.4,-0.3,0.3,-0.4,0.2, -0.5,0.1,-0.6,0.0,-0.4];
const q19=[0, 0.3,-0.2,-0.8,-0.2,-0.9, -0.3,-1.0,-0.4,-1.1,-0.5, -1.2,-0.6,-1.3,-0.7,-1.4, -2.0,-1.4,-2.1,-1.5,-2.2, -1.6,-2.3,-1.7,-1.1,-1.8, -1.2,-1.9,-1.3,-2.0,-1.4, -2.1,-1.5,-2.2,-1.6,-1.0, -1.7,-1.1,-1.8,-1.2,-1.9, -1.3,-2.0,-1.4,-2.1,-1.5, -2.2,-1.6,-2.3,-1.7,-2.1];
const q20=[0, 0.4,0.9,1.4,0.8,1.5, 0.9,1.6,1.0,1.7,1.1, 1.8,1.2,0.6,1.3,0.7, 1.4,0.8,1.5,0.9,1.6, 1.0,0.4,1.1,0.5,1.2, 0.6,1.3,0.7,0.1,0.8, 0.2,0.9,0.3,1.0,0.4, -0.2,0.5,-0.1,0.6,0.0, 0.7,0.1,0.8,0.2,-0.4, 0.3,-0.3,0.4,-0.2,0.2];
const q21=[0, -0.3,0.2,-0.4,0.1,-0.5, 0.0,0.6,0.0,0.7,0.1, 0.8,0.2,0.9,0.3,1.0, 0.4,1.1,0.5,-0.1,0.6, 0.0,0.7,0.1,0.8,0.2, 0.9,0.3,1.0,0.4,1.1, 0.5,1.2,0.6,1.3,0.7, 1.4,0.8,1.5,0.9,1.6, 1.0,1.7,1.1,1.8,1.2, 1.9,1.3,2.0,1.4,1.7];
const q22=[0, -0.3,-0.8,-0.2,-0.9,-0.3, -1.0,-0.4,-1.1,-0.5,-1.2, -0.6,-1.3,-1.9,-1.3,-2.0, -1.4,-2.1,-1.5,-2.2,-1.6, -2.3,-1.7,-2.4,-3.0,-2.4, -3.1,-2.5,-3.2,-2.6,-3.3, -2.7,-3.4,-2.8,-3.5,-2.9, -3.6,-3.0,-2.4,-3.1,-2.5, -3.2,-2.6,-3.3,-2.7,-3.4, -2.8,-3.5,-2.9,-3.6,-3.3];
const q23=[0, 0.4,-0.1,0.5,0.0,-0.6, 0.0,-0.7,-0.1,-0.8,-0.2, -0.9,-0.3,0.3,-0.4,0.2, -0.5,0.1,0.7,0.1,0.8, 0.2,0.9,0.3,-0.3,0.4, -0.2,0.5,-0.1,0.6,0.0, -0.6,0.1,-0.5,-1.1,-0.5, -1.2,-0.6,-1.3,-0.7,-1.4, -0.8,-1.5,-0.9,-1.6,-1.0, -1.7,-1.1,-1.8,-1.2,-1.5];
const q24=[0, 0.3,0.8,0.2,0.9,1.5, 0.9,1.6,1.0,0.4,1.1, 0.5,-0.1,0.6,0.0,-0.6, 0.1,-0.5,0.2,-0.4,-1.0, -0.4,-1.1,-0.5,-1.2,-0.6, -0.1,-0.7,0.0,-0.6,0.1, 0.7,0.1,0.8,0.2,0.9, 0.3,1.0,0.4,-0.2,0.5, -0.1,0.6,0.0,0.7,0.1, 0.8,0.2,0.9,0.3,0.0];
const q25=[0, -0.4,0.1,0.6,0.0,0.7, 0.1,-0.5,0.2,-0.4,-1.0, -0.4,-1.1,-0.5,-1.2,-0.6, -1.3,-0.7,-1.4,-0.8,-0.2, -0.9,-0.3,-1.0,-0.4,0.2, -0.5,0.1,-0.6,0.0,0.6, 0.0,0.7,0.1,0.8,0.2, 0.9,0.3,1.0,0.4,1.1, 0.5,1.2,0.6,1.3,0.7, 0.1,0.8,0.2,0.9,0.5];

const bandPaths = [p01,p02,p03,p04,p05,p06,p07,p08,p09,p10,p11,p12,p13,p14,p15,p16,p17,p18,p19,p20,
                   p21,p22,p23,p24,p25,p26,p27,p28,p29,p30,p31,p32,p33,p34,p35,p36,p37,p38,p39,p40,
                   p41,p42,p43,p44,p45,p46,p47,p48,p49,p50,
                   q01,q02,q03,q04,q05,q06,q07,q08,q09,q10,q11,q12,q13,q14,q15,q16,q17,q18,q19,q20,
                   q21,q22,q23,q24,q25];
const bandColors = [C.olive,C.olive,C.cyan,C.blue,C.orange,C.red,C.brown,C.blue,C.orange,C.green,
                    C.red,C.purple,C.brown,C.pink,C.gray,C.olive,C.cyan,C.blue,C.orange,C.green,
                    C.red,C.purple,C.brown,C.pink,C.gray,C.olive,C.cyan,C.blue,C.orange,C.green,
                    C.red,C.purple,C.brown,C.pink,C.gray,C.olive,C.cyan,C.blue,C.orange,C.green,
                    C.red,C.purple,C.brown,C.pink,C.olive,C.cyan,C.blue,C.orange,C.green,C.red,
                    C.blue,C.orange,C.green,C.red,C.purple,C.brown,C.pink,C.olive,C.cyan,C.blue,
                    C.orange,C.green,C.red,C.purple,C.brown,C.pink,C.cyan,C.gray,C.olive,C.blue,
                    C.red,C.green,C.purple,C.brown,C.cyan];

// ---- build datasets ----
function mk(vals, times, color){
  return {data: vals.map((y,i)=>({x: times[i], y: y})), borderColor: color, backgroundColor: color,
          borderWidth: 2.1, pointRadius: 0, tension: 0, fill: false, borderJoinStyle: 'round'};
}
const datasets = [];
finePaths.forEach((v,i)=>datasets.push(mk(v, timesFine, fineColors[i])));
bandPaths.forEach((v,i)=>datasets.push(mk(v, timesCoarse, bandColors[i])));

const FONT = 'DejaVu Sans';
const fmt = v => String(v).replace('-', '\u2212');

const framePlugin = {
  id: 'frame',
  afterDraw(chart){
    const {ctx, chartArea: a} = chart;
    ctx.save();
    ctx.strokeStyle = '#000';
    ctx.lineWidth = 1.5;
    ctx.strokeRect(a.left, a.top, a.right - a.left, a.bottom - a.top);
    ctx.restore();
  }
};

new Chart(document.getElementById('c'), {
  type: 'line',
  data: {datasets},
  plugins: [framePlugin],
  options: {
    responsive: false,
    devicePixelRatio: 1,
    animation: false,
    events: [],
    normalized: true,
    layout: {padding: 0},
    plugins: {
      legend: {display: false},
      tooltip: {enabled: false},
      title: {display: true, text: 'Simulation of Brownian Motion', color: '#000',
              font: {family: FONT, size: 28.5, weight: 'normal'}, padding: {top: 10, bottom: 8.8}}
    },
    scales: {
      x: {
        type: 'linear', position: 'bottom', min: -0.5, max: 10.5,
        afterBuildTicks: s => { s.ticks = xTicks.map(v => ({value: v})); },
        afterFit: s => { s.height = 73; },
        ticks: {color: '#000', font: {family: FONT, size: 19.5}, padding: 9, maxRotation: 0, autoSkip: false, callback: fmt},
        grid: {display: true, drawOnChartArea: false, drawTicks: true, tickLength: 7, tickColor: '#000', tickWidth: 1.3},
        border: {display: false},
        title: {display: true, text: 'Years (t)', color: '#000', font: {family: FONT, size: 21}, padding: {top: 4, bottom: 1}}
      },
      y: {
        type: 'linear', position: 'left', min: -8.62, max: 7.33,
        afterBuildTicks: s => { s.ticks = yTicks.map(v => ({value: v})); },
        afterFit: s => { s.width = 97; },
        ticks: {color: '#000', font: {family: FONT, size: 19.5}, padding: 3, autoSkip: false, callback: fmt},
        grid: {display: true, drawOnChartArea: false, drawTicks: true, tickLength: 7, tickColor: '#000', tickWidth: 1.3},
        border: {display: false},
        title: {display: true, text: 'Move', color: '#000', font: {family: FONT, size: 20}, padding: {top: 9, bottom: 0}}
      },
      yRight: {
        type: 'linear', position: 'right', display: true,
        afterFit: s => { s.width = 97; },
        ticks: {display: false},
        grid: {display: false, drawTicks: false},
        border: {display: false}
      }
    }
  }
});
</script>
</body>
</html>
